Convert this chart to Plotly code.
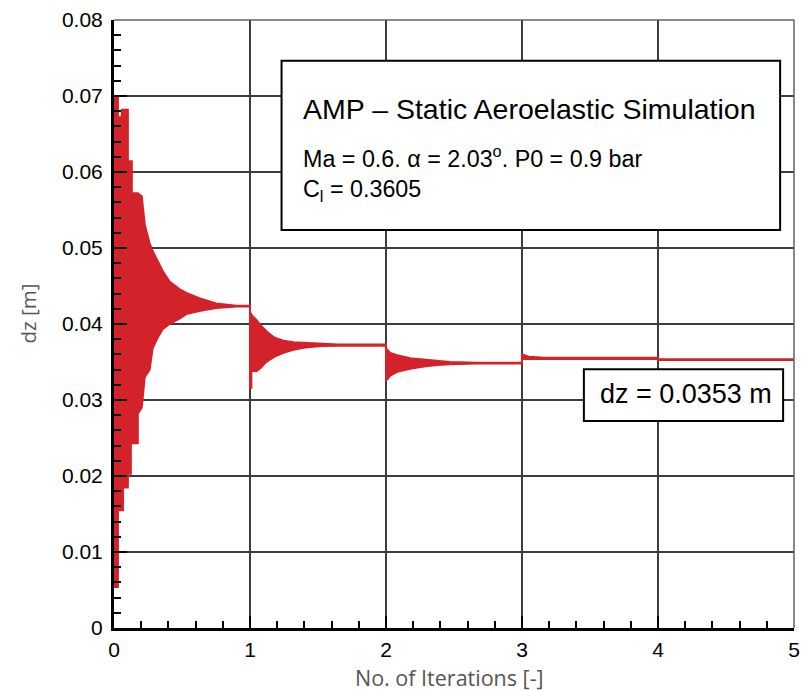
import plotly.graph_objects as go

# Envelope of the oscillating dz history: iteration, upper bound [m], lower bound [m].
# Repeated iterations mark the sudden jumps (early spikes and each restart).
iterations = [
    0.000, 0.029, 0.029, 0.058, 0.058, 0.066, 0.066, 0.102, 0.102, 0.124,
    0.124, 0.131, 0.131, 0.175, 0.175, 0.204,
    0.226, 0.262, 0.284, 0.321, 0.357, 0.408, 0.481, 0.532, 0.627, 0.751, 0.900, 1.000,
    1.000, 1.010, 1.010, 1.049, 1.078, 1.107, 1.136, 1.181, 1.246, 1.319, 1.407,
    1.523, 1.647, 2.000,
    2.000, 2.031, 2.082, 2.177, 2.279, 2.374, 2.469, 2.666, 3.000,
    3.000, 3.050, 3.141, 3.397, 4.000,
    4.000, 5.000,
]
dz_upper = [
    0.0700, 0.0700, 0.0672, 0.0672, 0.0682, 0.0682, 0.0682, 0.0682, 0.0614, 0.0614,
    0.0614, 0.0614, 0.0572, 0.0572, 0.0572, 0.0568,
    0.0531, 0.0506, 0.0496, 0.0483, 0.0470, 0.0456, 0.0446, 0.0441, 0.0434, 0.0427, 0.0424, 0.0424,
    0.0415, 0.0413, 0.0412, 0.0405, 0.0398, 0.0393, 0.0388, 0.0382, 0.0378, 0.0376, 0.0375,
    0.0374, 0.0373, 0.0373,
    0.0368, 0.0362, 0.0359, 0.0355, 0.0353, 0.0351, 0.0350, 0.0349, 0.0349,
    0.0360, 0.0357, 0.0356, 0.03555, 0.03555,
    0.03535, 0.03535,
]
dz_lower = [
    0.0054, 0.0054, 0.0155, 0.0155, 0.0155, 0.0155, 0.0185, 0.0185, 0.0203, 0.0203,
    0.0243, 0.0243, 0.0243, 0.0243, 0.0282, 0.0290,
    0.0330, 0.0340, 0.0368, 0.0382, 0.0393, 0.0400, 0.0407, 0.0413, 0.0417, 0.0421, 0.0423, 0.0423,
    0.0316, 0.0316, 0.0338, 0.0338, 0.0342, 0.0348, 0.0352, 0.0357, 0.0362, 0.0366, 0.0369,
    0.0371, 0.03715, 0.03715,
    0.0325, 0.0332, 0.0337, 0.0341, 0.0344, 0.0346, 0.0347, 0.0348, 0.0348,
    0.0354, 0.0354, 0.0354, 0.0354, 0.0354,
    0.03525, 0.03525,
]

x_ticks = [0, 1, 2, 3, 4, 5]
y_ticks = [0, 0.01, 0.02, 0.03, 0.04, 0.05, 0.06, 0.07, 0.08]

RED = "#d3222a"
TICK_FONT = dict(family="Liberation Sans, Arial, sans-serif", size=21, color="black")
BOX_FONT = "Liberation Sans, Arial, sans-serif"

fig = go.Figure()
fig.add_trace(go.Scatter(
    x=iterations, y=dz_lower, mode="lines", line=dict(color=RED, width=2),
    hoverinfo="skip", showlegend=False,
))
fig.add_trace(go.Scatter(
    x=iterations, y=dz_upper, mode="lines", line=dict(color=RED, width=2),
    fill="tonexty", fillcolor=RED, hoverinfo="skip", showlegend=False,
))

axis_common = dict(
    ticks="inside", tickwidth=2, tickcolor="black",
    showline=True, linecolor="black", linewidth=3,
    showgrid=True, gridcolor="#3c3c3c", gridwidth=1.5,
    zeroline=False, tickfont=TICK_FONT, layer="above traces",
)
fig.update_xaxes(
    range=[0, 5], tickvals=x_ticks, ticktext=[str(v) for v in x_ticks], ticklen=12,
    minor=dict(dtick=0.2, ticks="inside", ticklen=7, tickwidth=1.5, tickcolor="black", showgrid=False),
    ticklabelstandoff=1, **axis_common,
)
fig.update_yaxes(
    range=[0, 0.08], tickvals=y_ticks, ticktext=["0"] + [f"{v:.2f}" for v in y_ticks[1:]], ticklen=13,
    minor=dict(dtick=0.002, ticks="inside", ticklen=7, tickwidth=1.5, tickcolor="black", showgrid=False),
    ticklabelstandoff=4, **axis_common,
)

# plot frame (top and right), and the two text boxes
shapes = [
    dict(type="line", xref="paper", yref="paper", x0=0, x1=1, y0=1, y1=1,
         line=dict(color="#606060", width=1.5)),
    dict(type="line", xref="paper", yref="paper", x0=1, x1=1, y0=0, y1=1,
         line=dict(color="#606060", width=1.5)),
    dict(type="rect", xref="paper", yref="paper", x0=0.2464, x1=0.9796, y0=0.6547, y1=0.9329,
         line=dict(color="black", width=2), fillcolor="white"),
    dict(type="rect", xref="paper", yref="paper", x0=0.691, x1=0.984, y0=0.3404, y1=0.4255,
         line=dict(color="black", width=2), fillcolor="white"),
]

annotations = [
    dict(text="AMP – Static Aeroelastic Simulation", x=0.2755, y=0.8544,
         font=dict(family=BOX_FONT, size=28.5, color="black")),
    dict(text="Ma = 0.6. α = 2.03<sup>o</sup>. P0 = 0.9 bar", x=0.2755, y=0.7740,
         font=dict(family=BOX_FONT, size=23.3, color="black")),
    dict(text="C<sub>l</sub> = 0.3605", x=0.2755, y=0.7201,
         font=dict(family=BOX_FONT, size=23.3, color="black")),
    dict(text="dz = 0.0353 m", x=0.7114, y=0.3846,
         font=dict(family=BOX_FONT, size=27, color="black")),
]
for a in annotations:
    a.update(xref="paper", yref="paper", xanchor="left", yanchor="middle", showarrow=False)

annotations += [
    dict(text="dz [m]", x=-0.1268, y=0.517, xref="paper", yref="paper", textangle=-90,
         xanchor="center", yanchor="middle", showarrow=False,
         font=dict(family="Open Sans, sans-serif", size=20.5, color="#555555")),
    dict(text="No. of Iterations [-]", x=0.494, y=-0.0818, xref="paper", yref="paper",
         xanchor="center", yanchor="middle", showarrow=False,
         font=dict(family="Open Sans, sans-serif", size=21.5, color="#555555")),
]

fig.update_layout(
    width=808, height=691,
    margin=dict(l=114, r=8, t=17, b=63),
    paper_bgcolor="white", plot_bgcolor="white",
    shapes=shapes, annotations=annotations,
)

fig.write_html("out.html")
